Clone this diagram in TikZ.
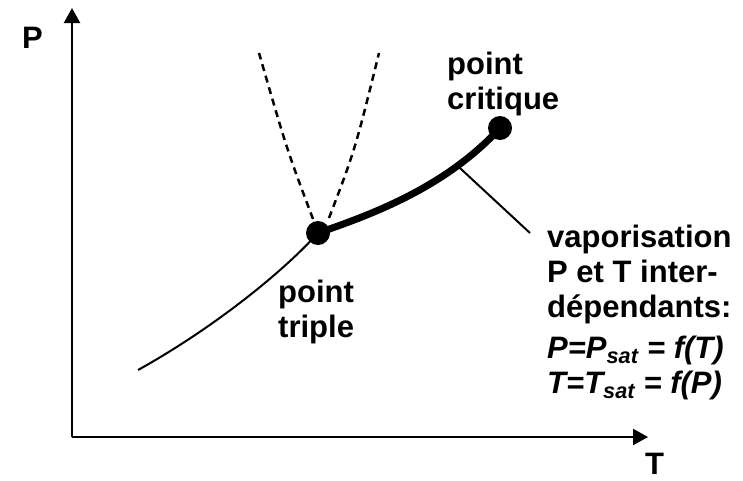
\documentclass[tikz,border=0pt]{standalone}
\usepackage{fontspec}
\setmainfont{Liberation Sans}
\usepackage{tikz}
\usetikzlibrary{arrows.meta, positioning, calc}

\begin{document}
\begin{tikzpicture}[x=1pt, y=-1pt,
    lbl/.style={font=\fontsize{31}{35}\selectfont\bfseries, align=left, inner sep=0pt},
    phasedot/.style={circle, fill=black, minimum size=24pt, inner sep=0pt},
    axis/.style={line width=2.2pt, -{Triangle[length=15pt, width=16pt]}}]
  \useasboundingbox (0,0) rectangle (743,480);

  % Axes
  \coordinate (origin) at (72,437);
  \coordinate (pmax) at (72,8);
  \coordinate (tmax) at (648,437);
  \draw[axis] (origin) -- (pmax);
  \draw[axis] (origin) -- (tmax);
  \node[lbl, anchor=base west] (plabel) at (22,48) {P};
  \node[lbl, anchor=base west] (tlabel) at (645,474) {T};

  % Special points
  \node[phasedot] (triple) at (318,233) {};
  \node[phasedot] (critical) at (500,128) {};
  \coordinate (sublow) at (138,370);
  \coordinate (fusleft) at (259,53);
  \coordinate (fusright) at (379,53);

  % Curves
  \draw[line width=2pt] (sublow) .. controls (210,330) and (280,275) .. (triple.center);
  \draw[line width=7pt] (triple.center) .. controls (370,215) and (445,188) .. (critical.center)
    coordinate[pos=0.76] (onvap);
  \draw[line width=2.5pt, dash pattern=on 7pt off 5pt] (triple.center) ++(-5,-14) coordinate (tl)
    .. controls (287,150) .. (fusleft);
  \draw[line width=2.5pt, dash pattern=on 7pt off 5pt] (triple.center) ++(11,-15) coordinate (tr)
    .. controls (355,150) .. (fusright);

  % Labels
  \node[lbl, anchor=base west] (crittext) at (447,109) {point\\critique};
  \node[lbl, anchor=base west] (tripletext) at (278,337) {point\\triple};
  \node[lbl, anchor=base west] (vaptext) at (547,393)
    {vaporisation\\P et T inter-\\dépendants:\\[6pt]
     \textit{P=P\textsubscript{sat} = f(T)}\\
     \textit{T=T\textsubscript{sat} = f(P)}};
  \coordinate (vapend) at (530,233);
  \draw[line width=2pt] (onvap) -- (vapend);
\end{tikzpicture}
\end{document}
